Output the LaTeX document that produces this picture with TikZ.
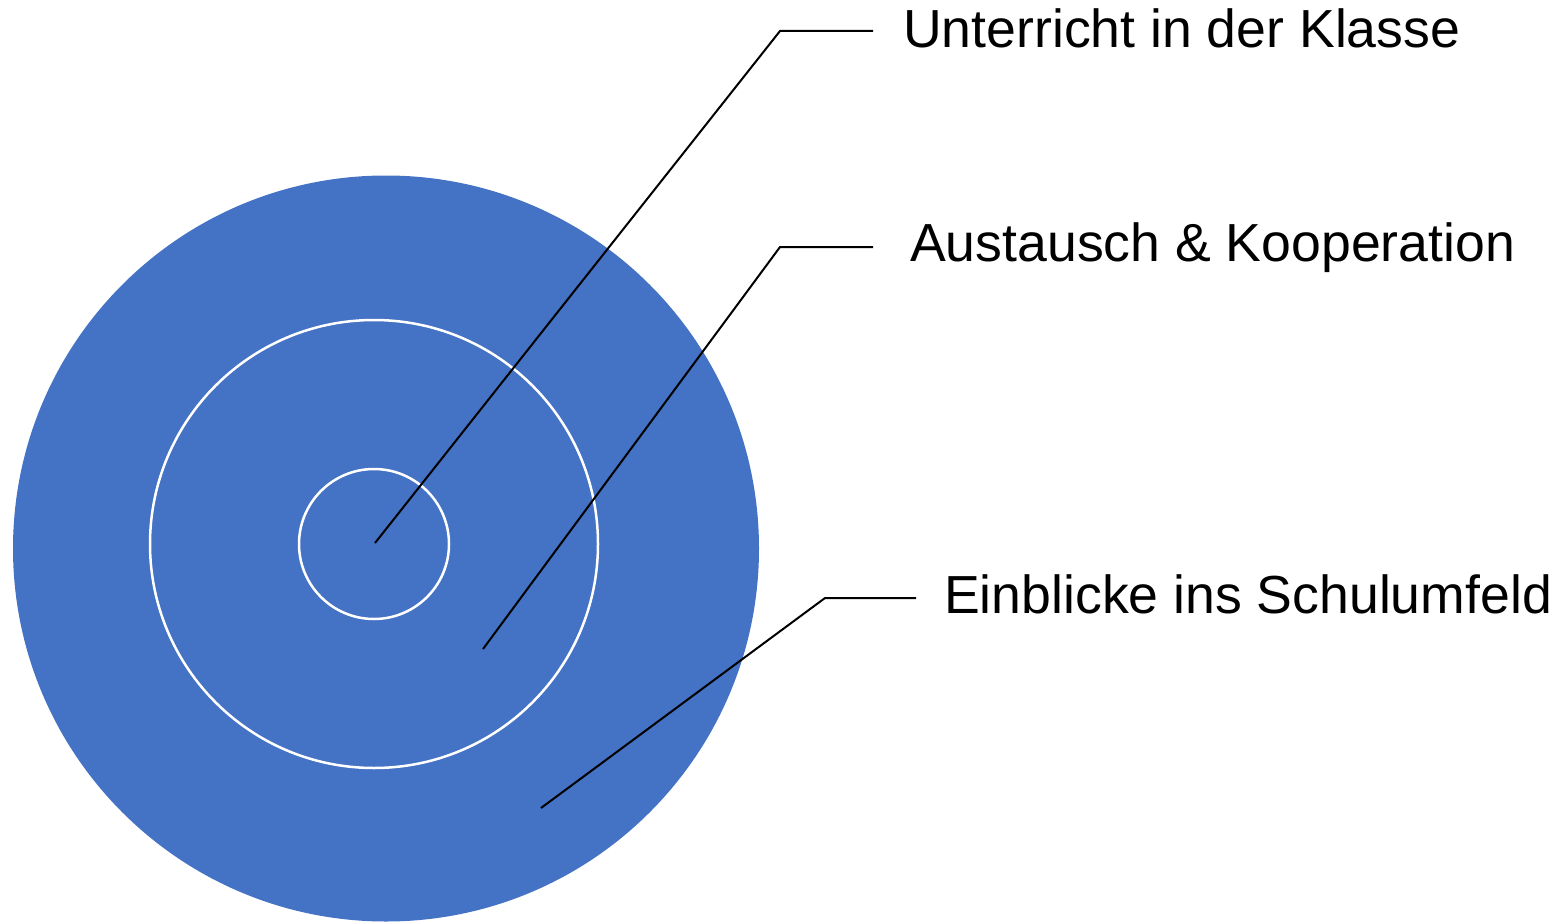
\documentclass[tikz,border=0pt]{standalone}
\usepackage{fontspec}
\setmainfont{Liberation Sans}
\definecolor{ringblue}{HTML}{4472C4}
\begin{document}
\begin{tikzpicture}[x=1pt,y=-1pt,
  ring/.style={circle,draw=white,line width=2.5pt,inner sep=0pt},
  leader/.style={draw=black,line width=2pt},
  lbl/.style={anchor=base west,inner sep=0pt,font=\fontsize{53.6}{64}\selectfont}]
\useasboundingbox (0,0) rectangle (1554,923);
\node[circle,fill=ringblue,inner sep=0pt,minimum size=746pt] (outer) at (386,548.5) {};
\node[ring,minimum size=448pt] (middle) at (374,544) {};
\node[ring,minimum size=150pt] (inner) at (374,544) {};
\node[lbl] (t1) at (903,48) {Unterricht in der Klasse};
\node[lbl] (t2) at (910,261) {Austausch \& Kooperation};
\node[lbl] (t3) at (944,613) {Einblicke ins Schulumfeld};
\coordinate (p1) at (375,543);
\coordinate (k1) at (780,31);
\coordinate (e1) at (873,31);
\coordinate (p2) at (483,649);
\coordinate (k2) at (780,247);
\coordinate (e2) at (873,247);
\coordinate (p3) at (541,808);
\coordinate (k3) at (825,598);
\coordinate (e3) at (916,598);
\draw[leader] (p1) -- (k1) -- (e1);
\draw[leader] (p2) -- (k2) -- (e2);
\draw[leader] (p3) -- (k3) -- (e3);
\end{tikzpicture}
\end{document}
